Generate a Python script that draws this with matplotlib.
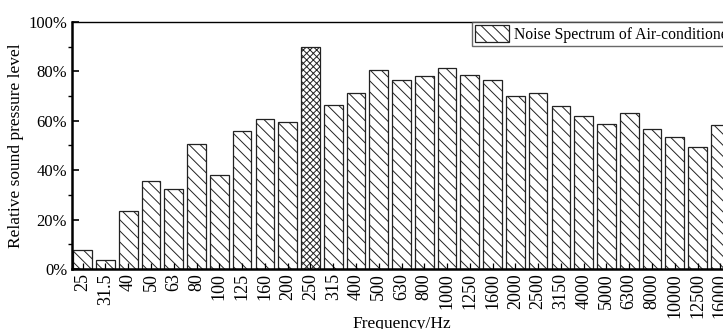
import numpy as np
import matplotlib.pyplot as plt
from matplotlib.ticker import MultipleLocator, FuncFormatter

plt.rcParams['font.family'] = ['Liberation Serif', 'DejaVu Serif']
plt.rcParams['hatch.linewidth'] = 0.7

freqs = ['25', '31.5', '40', '50', '63', '80', '100', '125', '160', '200',
         '250', '315', '400', '500', '630', '800', '1000', '1250', '1600',
         '2000', '2500', '3150', '4000', '5000', '6300', '8000', '10000',
         '12500', '16000']
level = [7.8, 3.8, 23.5, 35.7, 32.2, 50.5, 38.1, 55.7, 60.7, 59.5,
         90.0, 66.4, 71.1, 80.5, 76.5, 78.1, 81.5, 78.6, 76.4,
         70.0, 71.1, 66.1, 61.9, 58.5, 63.0, 56.5, 53.5,
         49.2, 58.1]
peak = '250'

fig = plt.figure(figsize=(7.23, 3.29), dpi=100)
# axes runs past the right edge, like the cropped original
ax = fig.add_axes([0.0996, 0.1824, 0.9115, 0.7508])

x = np.arange(len(freqs))
bars = ax.bar(x, level, 0.82, color='white', edgecolor='#222222',
              linewidth=0.9, hatch='\\\\\\',
              label='Noise Spectrum of Air-conditioner')
bars[freqs.index(peak)].set_hatch('xxxxx')

ax.set_xlim(-0.47, len(freqs) - 0.53)
ax.set_ylim(0, 100)
ax.set_xticks(x)
ax.set_xticklabels(freqs, rotation=90)
ax.yaxis.set_major_locator(MultipleLocator(20))
ax.yaxis.set_minor_locator(MultipleLocator(10))
ax.yaxis.set_major_formatter(FuncFormatter(lambda v, p: '%d%%' % v))
ax.tick_params(axis='both', direction='in')
ax.tick_params(axis='x', length=4, width=0.9, labelsize=13, pad=3)
ax.tick_params(axis='y', labelsize=12)
ax.tick_params(axis='y', which='major', length=5, width=1.2)
ax.tick_params(axis='y', which='minor', length=3, width=1.0)

ax.spines['left'].set_linewidth(1.8)
ax.spines['bottom'].set_linewidth(1.8)
ax.spines['top'].set_linewidth(1.0)

ax.set_xlabel('Frequency/Hz', fontsize=12.5)
ax.xaxis.set_label_coords(0.5, -0.19)
ax.set_ylabel('Relative sound pressure level', fontsize=12.5, labelpad=3)

leg = ax.legend(loc='upper left', bbox_to_anchor=(0.6066, 1.0),
                borderaxespad=0, fancybox=False, fontsize=11.3,
                handlelength=2.2, handleheight=1.3, borderpad=0.2,
                handletextpad=0.3)
leg.get_frame().set_edgecolor('#444444')
leg.get_frame().set_linewidth(1.0)

plt.savefig('out.png', dpi=100)
